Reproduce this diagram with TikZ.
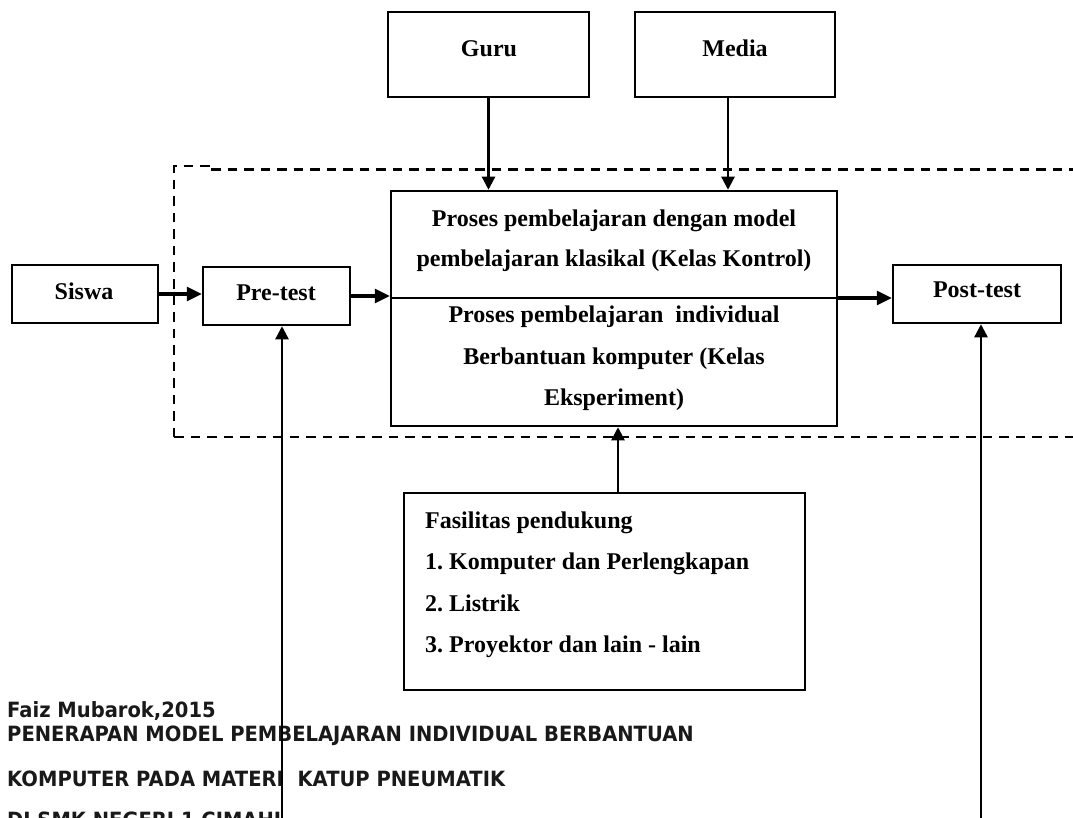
\documentclass[tikz,border=0pt]{standalone}
\usepackage{fontspec}
\setmainfont{Liberation Serif}
\newfontfamily\tahoma[FakeStretch=0.93]{DejaVu Sans}
\usetikzlibrary{arrows.meta}
\begin{document}
\frenchspacing
\begin{tikzpicture}[x=1pt,y=-1pt,
  box/.style={draw, line width=2.5pt, inner sep=0pt},
  lbl/.style={font=\fontsize{24}{28}\selectfont\bfseries, inner sep=0pt, anchor=base},
  llbl/.style={lbl, anchor=base west},
  foot/.style={font=\tahoma\bfseries\fontsize{21}{24}\selectfont, inner sep=0pt, anchor=base west, text=black!90},
  conn/.style={line width=2.3pt, -{Triangle[length=13pt,width=13pt]}},
  tconn/.style={line width=3.2pt, -{Triangle[length=15pt,width=14pt]}},
  dashbox/.style={line width=2.2pt, dash pattern=on 9.5pt off 7pt}
]
\useasboundingbox (0,0) rectangle (1073,818);

% boxes
\node[box, minimum width=201pt, minimum height=85pt] (guru) at (488.5,54.5) {};
\node[box, minimum width=200pt, minimum height=85pt] (media) at (735,54.5) {};
\node[box, minimum width=446pt, minimum height=235pt] (main) at (614,308.5) {};
\node[box, minimum width=146pt, minimum height=58pt] (siswa) at (85,294) {};
\node[box, minimum width=147pt, minimum height=58pt] (pretest) at (276.5,296) {};
\node[box, minimum width=168pt, minimum height=58pt] (posttest) at (977,294) {};
\node[box, minimum width=401pt, minimum height=197pt] (fas) at (604.5,591.5) {};

% labels
\node[lbl] (tguru) at (489,57) {Guru};
\node[lbl] (tmedia) at (735,57) {Media};
\node[lbl] (tsiswa) at (84,299) {Siswa};
\node[lbl] (tpre) at (276,300) {Pre-test};
\node[lbl] (tpost) at (977,298) {Post-test};
\node[lbl] (m1) at (614,227) {Proses pembelajaran dengan model};
\node[lbl] (m2) at (614,267) {pembelajaran klasikal (Kelas Kontrol)};
\node[lbl] (m3) at (614,322) {Proses pembelajaran\ \ individual};
\node[lbl] (m4) at (614,364) {Berbantuan komputer (Kelas};
\node[lbl] (m5) at (614,405) {Eksperiment)};
\node[llbl] (f1) at (425,528) {Fasilitas pendukung};
\node[llbl] (f2) at (425,569) {1. Komputer dan Perlengkapan};
\node[llbl] (f3) at (425,611) {2. Listrik};
\node[llbl] (f4) at (425,652) {3. Proyektor dan lain - lain};

% footer
\node[foot] (ft1) at (7,717) {Faiz Mubarok,2015};
\node[foot] (ft2) at (7,741) {PENERAPAN MODEL PEMBELAJARAN INDIVIDUAL BERBANTUAN};
\node[foot] (ft3) at (7,786) {KOMPUTER PADA MATERI\ \ KATUP PNEUMATIK};
\node[foot] (ft4) at (7,827) {DI SMK NEGERI 1 CIMAHI};

% dashed frame
\draw[dashbox] (174,437) -- (174,166) -- (211,166);
\draw[dashbox] (211,169.5) -- (1080,169.5);
\draw[dashbox] (174,437) -- (1080,437);

% connectors
\draw[conn] (guru.south) -- (guru.south |- main.north);
\draw[conn] ([xshift=-7pt]media.south) -- ([xshift=-7pt]media.south |- main.north);
\draw[tconn] (siswa.east) -- (siswa.east -| pretest.west);
\draw[tconn] (pretest.east) -- (pretest.east -| main.west);
\draw[line width=2.5pt] ([yshift=10.5pt]main.west) -- ([yshift=10.5pt]main.east);
\draw[tconn] ([yshift=10.5pt]main.east) -- ([yshift=10.5pt]main.east -| posttest.west);
\draw[conn] ([xshift=13.5pt]fas.north) -- ([xshift=13.5pt]fas.north |- main.south);
\coordinate (pb) at (282,818);
\coordinate (qb) at (981,818);
\draw[conn] (pb) -- (pb |- pretest.south);
\draw[conn] (qb) -- (qb |- posttest.south);
\end{tikzpicture}
\end{document}
